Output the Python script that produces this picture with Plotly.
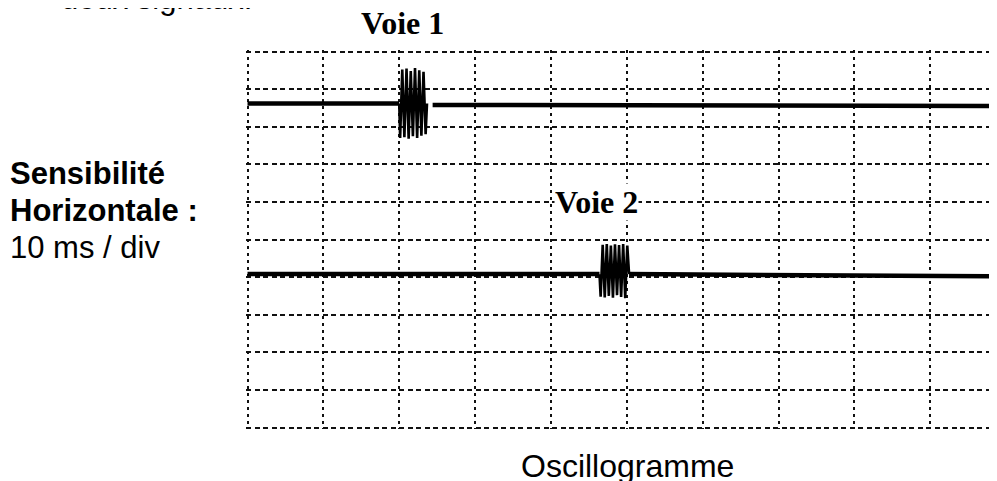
import plotly.graph_objects as go

# ---- data (time in divisions of 10 ms, amplitude in divisions) ----
grid_x_divs = [0, 1, 2, 3, 4, 5, 6, 7, 8, 9]
grid_y_divs = [0, 1, 2, 3, 4, 5, 6, 7, 8, 9, 10]

# Voie 1: flat trace, burst, short gap, flat trace
voie1_base_t = [0.00, 2.00, None, 2.44, 9.90]
voie1_base_v = [8.62, 8.62, None, 8.58, 8.55]
burst1_t = [2.00, 2.012, 2.040, 2.068, 2.096, 2.124, 2.152, 2.180, 2.208, 2.236,
            2.264, 2.292, 2.320, 2.348, 2.366]
burst1_v = [8.62, 7.70, 9.52, 7.72, 9.55, 7.68, 9.48, 7.75, 9.56, 7.70,
            9.50, 7.76, 9.46, 7.80, 8.62]

# Voie 2: flat trace, burst, flat trace
voie2_base_t = [0.00, 4.64, None, 5.03, 9.90]
voie2_base_v = [4.08, 4.08, None, 4.08, 4.02]
burst2_t = [4.64, 4.655, 4.682, 4.709, 4.736, 4.763, 4.790, 4.817, 4.844, 4.871,
            4.898, 4.925, 4.952, 4.979, 5.006, 5.03]
burst2_v = [4.08, 3.48, 4.86, 3.46, 4.88, 3.50, 4.84, 3.45, 4.87, 3.52,
            4.85, 3.47, 4.88, 3.44, 4.84, 4.08]

# ---- layout geometry (page pixels; page body has an 8px offset) ----
OFF = 8
W, H = 997 - OFF, 481 - OFF
L, R, T, B = 245.5 - OFF, 0, 49.5 - OFF, 51.5
x_range = [-0.02, 9.88]
y_range = [-0.04, 10.04]
PW, PH = W - L - R, H - T - B


def px(xp):
    return (xp - OFF - L) / PW


def py(yp):
    return 1 - (yp - OFF - T) / PH


fig = go.Figure()
for t, v, w in [(voie1_base_t, voie1_base_v, 4.5), (burst1_t, burst1_v, 2.6),
                (voie2_base_t, voie2_base_v, 4.5), (burst2_t, burst2_v, 2.6)]:
    fig.add_trace(go.Scatter(x=t, y=v, mode="lines",
                             line=dict(color="black", width=w), connectgaps=False,
                             hoverinfo="skip", showlegend=False))

grid_style = dict(showgrid=True, gridcolor="#111111", gridwidth=2,
                  zeroline=False, showline=False, showticklabels=False,
                  ticks="", fixedrange=True)

fig.update_xaxes(range=x_range, tickmode="array", tickvals=grid_x_divs,
                 griddash="3px,4px", **grid_style)
fig.update_yaxes(range=y_range, tickmode="array", tickvals=grid_y_divs,
                 griddash="5px,3.5px", **grid_style)

sans = "Liberation Sans, Arial, sans-serif"
serif = "Liberation Serif, Times New Roman, serif"


def label(text, x, baseline, size, family, xanchor="left", **kw):
    return dict(text=text, x=px(x), y=py(baseline - 0.35 * size), xanchor=xanchor,
                yanchor="middle", font=dict(family=family, size=size, color="black"),
                xref="paper", yref="paper", showarrow=False, **kw)


annotations = [
    label("deux signaux.", 58, 9, 31, sans),
    label("<b>Voie 1</b>", 402.5, 34, 32, serif, xanchor="center"),
    label("<b>Voie 2</b>", 596.5, 213, 32, serif, xanchor="center",
          bgcolor="white", borderpad=0),
    label("<b>Sensibilité</b>", 7, 184, 31, sans),
    label("<b>Horizontale :</b>", 7, 221, 31, sans),
    label("10 ms / div", 7, 258, 31, sans),
    label("Oscillogramme", 627.5, 478, 32, sans, xanchor="center"),
]

fig.update_layout(width=W, height=H, margin=dict(l=L, r=R, t=T, b=B, pad=0),
                  paper_bgcolor="white", plot_bgcolor="white",
                  annotations=annotations, showlegend=False)

fig.write_html("out.html", config={"displayModeBar": False, "staticPlot": True})
